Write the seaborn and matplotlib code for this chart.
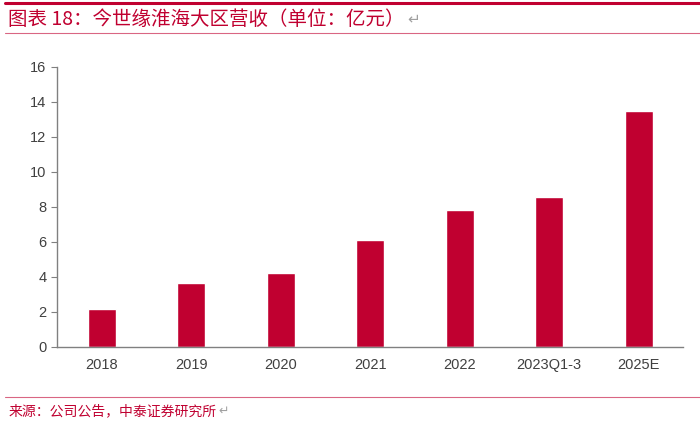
import pandas as pd
import matplotlib.pyplot as plt
import seaborn as sns

# 今世缘淮海大区营收（亿元）
categories = ['2018', '2019', '2020', '2021', '2022', '2023Q1-3', '2025E']
revenue = [2.15, 3.65, 4.2, 6.08, 7.8, 8.58, 13.45]

df = pd.DataFrame({'year': categories, 'revenue': revenue})

sns.set_style('white')
plt.rcParams['font.family'] = ['Noto Sans CJK SC', 'DejaVu Sans']

red = '#C00030'
grey = '#808080'

fig = plt.figure(figsize=(7, 4.23), dpi=100)
ax = fig.add_axes([0.0814, 0.18, 0.895, 0.662])

sns.barplot(x='year', y='revenue', data=df, color=red, width=0.31,
            saturation=1, ax=ax)

ax.set_ylim(0, 16)
ax.set_yticks(range(0, 17, 2))
ax.set_xlim(-0.5, len(categories) - 0.5)
ax.set_xlabel('')
ax.set_ylabel('')

for s in ['top', 'right']:
    ax.spines[s].set_visible(False)
for s in ['left', 'bottom']:
    ax.spines[s].set_color(grey)
    ax.spines[s].set_linewidth(1)

# 类别之间的刻度
ax.set_xticks([i + 0.5 for i in range(-1, len(categories))], minor=True)
ax.tick_params(axis='x', which='major', length=0, labelsize=10.5,
               labelcolor='#404040', pad=8)
ax.tick_params(axis='x', which='minor', length=4, color=grey, direction='out')
ax.tick_params(axis='y', length=4, color=grey, direction='out',
               labelsize=10.5, labelcolor='#404040', left=True)
for lab in ax.get_xticklabels() + ax.get_yticklabels():
    lab.set_family(['Liberation Sans'])

# 标题和来源
fig.lines.append(plt.Line2D([0.007, 1.0], [0.993, 0.993], color=red,
                            lw=2.2, transform=fig.transFigure))
fig.lines.append(plt.Line2D([0.007, 1.0], [0.922, 0.922], color=red,
                            lw=0.8, alpha=0.6, transform=fig.transFigure))
t = fig.text(0.012, 0.955, '图表 18：今世缘淮海大区营收（单位：亿元）', color=red,
             fontsize=14, style='italic', weight='medium', va='center', ha='left')
fig.canvas.draw()
bb = t.get_window_extent().transformed(fig.transFigure.inverted())
fig.text(bb.x1 + 0.003, 0.955, '↵', color='#A0A0A0', fontsize=11,
         va='center', ha='left', family=['DejaVu Sans'])
fig.lines.append(plt.Line2D([0.007, 1.0], [0.061, 0.061], color=red,
                            lw=0.8, alpha=0.6, transform=fig.transFigure))
s = fig.text(0.012, 0.028, '来源：公司公告，中泰证券研究所', color=red,
             fontsize=10, va='center', ha='left')
fig.canvas.draw()
bb = s.get_window_extent().transformed(fig.transFigure.inverted())
fig.text(bb.x1 + 0.002, 0.028, '↵', color='#A0A0A0', fontsize=9,
         va='center', ha='left', family=['DejaVu Sans'])

plt.savefig('out.png', dpi=100)
